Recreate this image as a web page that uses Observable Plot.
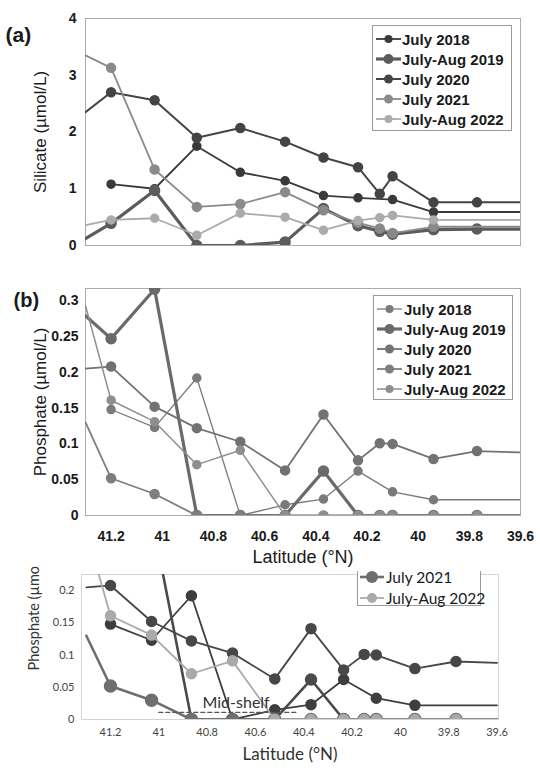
<!DOCTYPE html>
<html><head><meta charset="utf-8">
<script src="https://cdn.jsdelivr.net/npm/d3@7"></script>
<script src="https://cdn.jsdelivr.net/npm/@observablehq/plot@0.6"></script>
<style>
body{margin:0;background:#fff;}
#wrap{position:relative;width:540px;height:768px;overflow:hidden;background:#fff;}
.panel{position:absolute;left:0;}
.legend{position:absolute;border:1px solid #9a9a9a;background:#fff;box-sizing:border-box;}
.legend .row{position:absolute;left:0;height:20px;display:flex;align-items:center;white-space:nowrap;}
.legend svg{flex:none;}
</style></head><body><div id="wrap"></div>
<script>
// ---------- data ----------
const series = ["July 2018", "July-Aug 2019", "July 2020", "July 2021", "July-Aug 2022"];
// station latitudes (first and last are the plot edges, drawn without markers)
const latitude = [41.3, 41.2, 41.03, 40.865, 40.695, 40.52, 40.37, 40.235, 40.15, 40.10, 39.94, 39.77, 39.6];

const silicate2018 = [null, 1.08, 1.00, 1.75, 1.29, 1.14, 0.88, 0.84, null, 0.81, 0.59, null, 0.59];
const silicate2019 = [0.12, 0.39, 0.97, 0.0, 0.0, 0.06, 0.65, 0.35, 0.25, 0.20, 0.28, 0.29, 0.29];
const silicate2020 = [2.35, 2.70, 2.56, 1.90, 2.07, 1.83, 1.55, 1.38, 0.91, 1.22, 0.76, 0.76, 0.76];
const silicate2021 = [3.35, 3.13, 1.34, 0.68, 0.73, 0.94, 0.62, 0.40, 0.30, 0.22, 0.33, null, 0.33];
const silicate2022 = [0.36, 0.45, 0.48, 0.18, 0.57, 0.50, 0.27, 0.44, 0.49, 0.53, 0.45, null, 0.45];

const phosphate2018 = [null, 0.148, 0.123, 0.192, 0.0, 0.015, 0.023, 0.062, null, 0.033, 0.022, null, 0.022];
const phosphate2019 = [0.279, 0.247, 0.316, 0, 0, 0, 0.062, 0, 0, 0, 0, 0, 0];
const phosphate2020 = [0.205, 0.208, 0.152, 0.122, 0.103, 0.063, 0.141, 0.077, 0.101, 0.100, 0.079, 0.090, 0.088];
const phosphate2021 = [0.130, 0.052, 0.030, 0, 0, 0, 0, 0, 0, 0, 0, 0, 0];
const phosphate2022 = [0.293, 0.161, 0.131, 0.071, 0.091, 0, 0, 0, 0, 0, 0, 0, 0];

const latTicks = [41.2, 41, 40.8, 40.6, 40.4, 40.2, 40, 39.8, 39.6];
const silicateTicks = [0, 1, 2, 3, 4];
const phosphateTicks = [0, 0.05, 0.1, 0.15, 0.2, 0.25, 0.3];
const phosphateTicksInset = [0, 0.05, 0.1, 0.15, 0.2];

const midShelfLat = [41.0, 40.43];
const midShelfLevel = 0.011;
const midShelfLabelLat = 40.68;
const midShelfLabelLevel = 0.026;

// ---------- styles ----------
const styleA = [
  {c: "#3a3a3a", w: 1.8, r: 4},
  {c: "#5c5c5c", w: 3.2, r: 5},
  {c: "#444444", w: 2, r: 4.5},
  {c: "#8a8a8a", w: 1.8, r: 4.5},
  {c: "#ababab", w: 1.8, r: 4}
];
const styleB = [
  {c: "#7a7a7a", w: 1.3, r: 4},
  {c: "#6a6a6a", w: 3.2, r: 5},
  {c: "#727272", w: 1.8, r: 4.5},
  {c: "#7e7e7e", w: 1.8, r: 4.5},
  {c: "#8e8e8e", w: 1.5, r: 4}
];
const styleC = [
  {c: "#3e3e3e", w: 1.8, r: 5},
  {c: "#4a4a4a", w: 2.6, r: 5.5},
  {c: "#474747", w: 1.8, r: 5},
  {c: "#6e6e6e", w: 2.6, r: 6},
  {c: "#aaaaaa", w: 1.8, r: 5}
];

const fmtLat = d => String(+d.toFixed(1));
const fmtNum = d => String(+d.toFixed(2));

function toRows(vals) {
  return latitude
    .map((lat, i) => ({lat, v: vals[i], edge: i === 0 || i === latitude.length - 1}))
    .filter(d => d.v !== null);
}

function seriesMarks(dataList, styles) {
  const marks = [];
  dataList.forEach((vals, k) => {
    const st = styles[k];
    const rows = toRows(vals);
    marks.push(Plot.line(rows, {x: "lat", y: "v", stroke: st.c, strokeWidth: st.w, clip: true}));
    marks.push(Plot.dot(rows.filter(d => !d.edge), {x: "lat", y: "v", r: st.r, fill: st.c, stroke: st.c, clip: true}));
  });
  return marks;
}

const wrap = document.getElementById("wrap");

function place(node, top) {
  const d = document.createElement("div");
  d.className = "panel";
  d.style.top = top + "px";
  d.appendChild(node);
  wrap.appendChild(d);
}

function legend(entries, styles, box, font) {
  const lg = document.createElement("div");
  lg.className = "legend";
  lg.style.left = box.left + "px";
  lg.style.top = box.top + "px";
  lg.style.width = box.width + "px";
  lg.style.height = box.height + "px";
  if (box.noTop) lg.style.borderTop = "none";
  entries.forEach((name, i) => {
    const st = styles[i];
    const row = document.createElement("div");
    row.className = "row";
    row.style.top = (box.first + i * box.step - 10) + "px";
    row.style.left = box.sampleLeft + "px";
    const ns = "http://www.w3.org/2000/svg";
    const svg = document.createElementNS(ns, "svg");
    svg.setAttribute("width", box.sampleWidth);
    svg.setAttribute("height", 20);
    const ln = document.createElementNS(ns, "line");
    ln.setAttribute("x1", 0); ln.setAttribute("x2", box.sampleWidth);
    ln.setAttribute("y1", 10); ln.setAttribute("y2", 10);
    ln.setAttribute("stroke", st.c); ln.setAttribute("stroke-width", st.w);
    const ci = document.createElementNS(ns, "circle");
    ci.setAttribute("cx", box.sampleWidth / 2); ci.setAttribute("cy", 10);
    ci.setAttribute("r", st.r); ci.setAttribute("fill", st.c);
    svg.appendChild(ln); svg.appendChild(ci);
    const tx = document.createElement("span");
    tx.textContent = name;
    tx.style.font = font;
    tx.style.color = "#1a1a1a";
    tx.style.marginLeft = box.gap + "px";
    row.appendChild(svg); row.appendChild(tx);
    lg.appendChild(row);
  });
  wrap.appendChild(lg);
}

const fontAB = "Liberation Sans, Arial, Helvetica, sans-serif";
const fontC = "Lato, Open Sans, sans-serif";

// ---------- panel (a) ----------
const plotA = Plot.plot({
  width: 540, height: 260,
  marginTop: 18, marginBottom: 15, marginLeft: 85, marginRight: 20,
  style: {fontFamily: fontAB, color: "#1a1a1a", background: "transparent", overflow: "visible"},
  x: {domain: [41.3, 39.6], axis: null},
  y: {domain: [0, 4], axis: null},
  marks: [
    Plot.frame({stroke: "#aaa"}),
    ...seriesMarks([silicate2018, silicate2019, silicate2020, silicate2021, silicate2022], styleA),
    Plot.axisY({ticks: silicateTicks, tickFormat: fmtNum, tickSize: 0, tickPadding: 9, fontSize: 14, fontWeight: "bold", label: null}),
    Plot.text(["Silicate (µmol/L)"], {frameAnchor: "left", dx: -45, rotate: -90, textAnchor: "middle", fontSize: 17, fill: "#1a1a1a"}),
    Plot.text(["(a)"], {frameAnchor: "top-left", dx: -80, dy: 9, fontSize: 21, fontWeight: "bold", textAnchor: "start"})
  ]
});
place(plotA, 0);

// ---------- panel (b) ----------
const plotB = Plot.plot({
  width: 540, height: 300,
  marginTop: 18, marginBottom: 55, marginLeft: 85, marginRight: 20,
  style: {fontFamily: fontAB, color: "#1a1a1a", background: "transparent", overflow: "visible"},
  x: {domain: [41.3, 39.6], axis: null},
  y: {domain: [0, 0.317], axis: null},
  marks: [
    Plot.frame({stroke: "#aaa"}),
    ...seriesMarks([phosphate2018, phosphate2019, phosphate2020, phosphate2021, phosphate2022], styleB),
    Plot.axisY({ticks: phosphateTicks, tickFormat: fmtNum, tickSize: 0, tickPadding: 7, fontSize: 14, fontWeight: "bold", label: null}),
    Plot.axisX({ticks: latTicks, tickFormat: fmtLat, tickSize: 0, tickPadding: 16, fontSize: 14, fontWeight: "bold", label: null}),
    Plot.text(["Phosphate (µmol/L)"], {frameAnchor: "left", dx: -45, rotate: -90, textAnchor: "middle", fontSize: 17, fill: "#1a1a1a"}),
    Plot.text(["Latitude (°N)"], {frameAnchor: "bottom", dy: 47, fontSize: 18, fill: "#1a1a1a"}),
    Plot.text(["(b)"], {frameAnchor: "top-left", dx: -72, dy: 4, fontSize: 20, fontWeight: "bold", textAnchor: "start"})
  ]
});
place(plotB, 270);

// ---------- bottom (inset) panel ----------
const plotC = Plot.plot({
  width: 540, height: 208,
  marginTop: 14, marginBottom: 49, marginLeft: 81, marginRight: 42,
  style: {fontFamily: fontC, color: "#333", background: "transparent", overflow: "visible"},
  x: {domain: [41.32, 39.594], axis: null},
  y: {domain: [0, 0.225], axis: null},
  marks: [
    Plot.frame({stroke: "#d4d4d4"}),
    ...seriesMarks([phosphate2018, phosphate2019, phosphate2020, phosphate2021, phosphate2022], styleC),
    Plot.line(midShelfLat.map(lat => ({lat, v: midShelfLevel})), {x: "lat", y: "v", stroke: "#555", strokeWidth: 1.3, strokeDasharray: "4,3"}),
    Plot.text([{lat: midShelfLabelLat, v: midShelfLabelLevel}], {x: "lat", y: "v", text: () => "Mid-shelf", fontSize: 16, fill: "#333"}),
    Plot.axisY({ticks: phosphateTicksInset, tickFormat: fmtNum, tickSize: 0, tickPadding: 7, fontSize: 11, label: null, fill: "#444"}),
    Plot.axisX({ticks: latTicks, tickFormat: fmtLat, tickSize: 0, tickPadding: 9, fontSize: 11, label: null, fill: "#444"}),
    Plot.text(["Phosphate (µmo"], {frameAnchor: "bottom-left", dx: -43, dy: -49, rotate: -90, textAnchor: "start", fontSize: 14.5, fill: "#333"}),
    Plot.text(["Latitude (°N)"], {frameAnchor: "bottom", dy: 40, fontSize: 17, fill: "#333"})
  ]
});
place(plotC, 560);

// ---------- legends ----------
legend(series, styleA, {left: 372, top: 25, width: 140, height: 106, first: 13, step: 20, sampleLeft: 3, sampleWidth: 25, gap: 1}, "bold 15px " + fontAB);
legend(series, styleB, {left: 373, top: 295, width: 140, height: 105, first: 13, step: 20, sampleLeft: 3, sampleWidth: 25, gap: 2}, "bold 15px " + fontAB);
legend(series.slice(3), styleC.slice(3), {left: 357, top: 571, width: 124, height: 35, first: 6, step: 21, sampleLeft: 2, sampleWidth: 24, gap: 2, noTop: true}, "15.5px " + fontC);
</script>
</body></html>
